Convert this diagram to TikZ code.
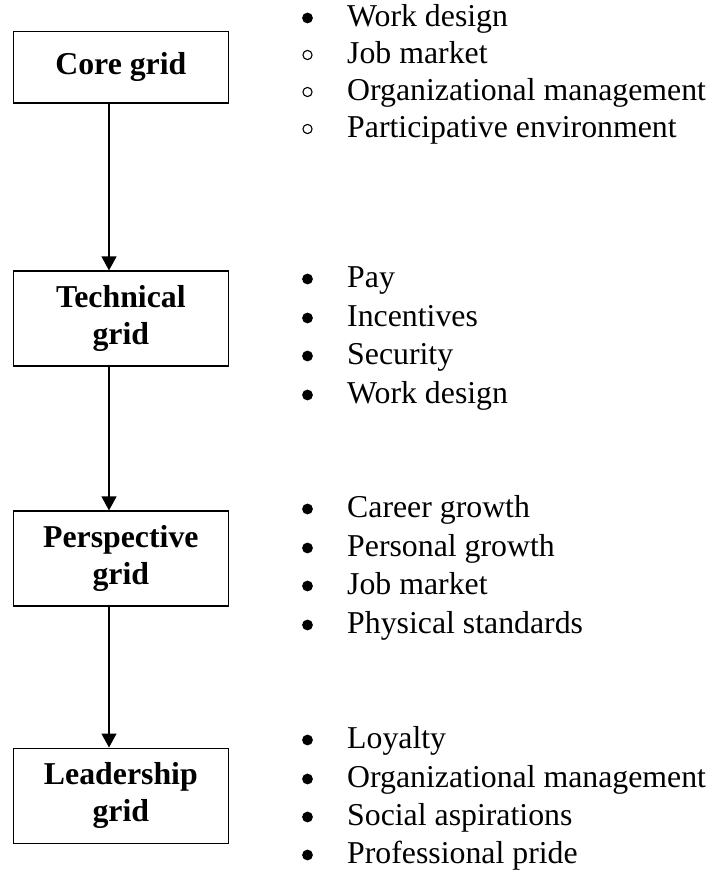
\documentclass[tikz,border=0pt]{standalone}
\usepackage{fontspec}
\setmainfont{Liberation Serif}
\usetikzlibrary{arrows.meta}
\begin{document}
\begin{tikzpicture}[x=1pt,y=-1pt,
  gridbox/.style={draw, line width=1.6pt, minimum width=215pt, inner sep=0pt,
    align=center, font=\fontsize{31.8}{36.7}\selectfont\bfseries},
  item/.style={anchor=base west, inner sep=0pt, font=\fontsize{31.8}{36.7}\selectfont},
  flow/.style={line width=1.3pt, -{Triangle[width=15pt,length=14pt]}},
  dot/.style={fill=black},
  ring/.style={draw=black, line width=1.1pt}]
\useasboundingbox (0,0) rectangle (713,873);

% the four grids
\node[gridbox, minimum height=71.5pt] (core)  at (120.85,67.2)  {Core grid};
\node[gridbox, minimum height=95pt]   (tech)  at (120.85,318.7) {Technical\\grid};
\node[gridbox, minimum height=95pt]   (persp) at (120.85,558.7) {Perspective\\grid};
\node[gridbox, minimum height=95pt]   (lead)  at (120.85,795.8) {Leadership\\grid};

% downward flow between the grids
\draw[flow] ([xshift=-11.85pt]core.south)  -- ([xshift=-11.85pt]tech.north);
\draw[flow] ([xshift=-11.85pt]tech.south)  -- ([xshift=-11.85pt]persp.north);
\draw[flow] ([xshift=-11.85pt]persp.south) -- ([xshift=-11.85pt]lead.north);

% core grid factors
\fill[dot] (307.5,18) circle (5.4pt);
\node[item] (core1) at (347,26) {Work design};
\foreach \y/\t/\n in {63/Job market/core2, 100/Organizational management/core3,
                      137/Participative environment/core4}{
  \draw[ring] (307.5,\y-8) circle (4.6pt);
  \node[item] (\n) at (347,\y) {\t};
}

% technical grid factors
\foreach \y/\t/\n in {287/Pay/tech1, 326/Incentives/tech2, 364/Security/tech3,
                      403/Work design/tech4}{
  \fill[dot] (307.5,\y-8) circle (5.4pt);
  \node[item] (\n) at (347,\y) {\t};
}

% perspective grid factors
\foreach \y/\t/\n in {517/Career growth/persp1, 556/Personal growth/persp2,
                      594/Job market/persp3, 633/Physical standards/persp4}{
  \fill[dot] (307.5,\y-8) circle (5.4pt);
  \node[item] (\n) at (347,\y) {\t};
}

% leadership grid factors
\foreach \y/\t/\n in {748/Loyalty/lead1, 787/Organizational management/lead2,
                      825/Social aspirations/lead3, 863/Professional pride/lead4}{
  \fill[dot] (307.5,\y-8) circle (5.4pt);
  \node[item] (\n) at (347,\y) {\t};
}
\end{tikzpicture}
\end{document}
